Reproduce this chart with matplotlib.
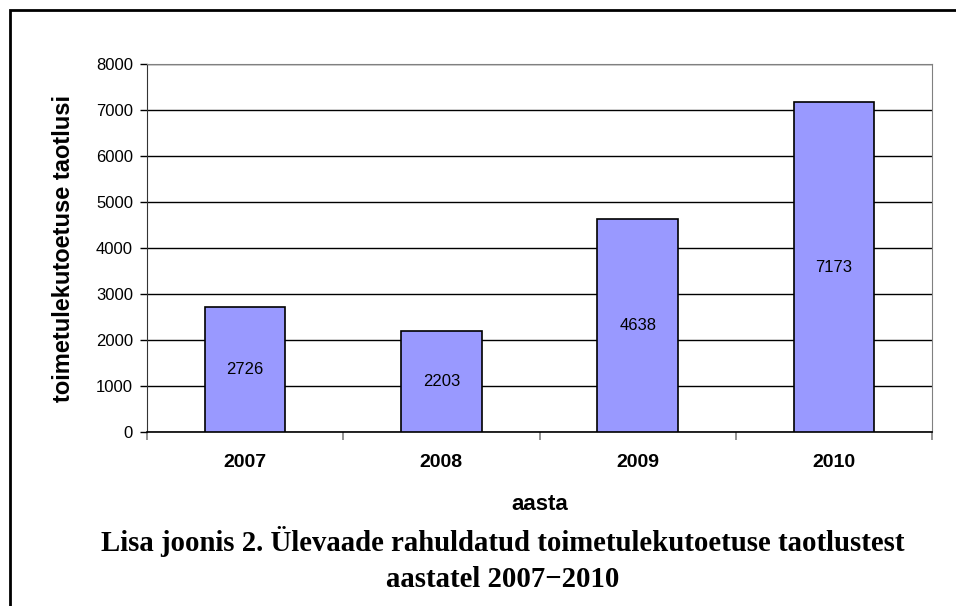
import matplotlib
matplotlib.use("Agg")
import matplotlib.pyplot as plt
from matplotlib.patches import Rectangle

# data
years = ["2007", "2008", "2009", "2010"]
counts = [2726, 2203, 4638, 7173]
yticks = [0, 1000, 2000, 3000, 4000, 5000, 6000, 7000, 8000]

plt.rcParams['font.family'] = ['Liberation Sans', 'DejaVu Sans']
serif = ['Liberation Serif', 'DejaVu Serif']

fig = plt.figure(figsize=(9.56, 6.06), dpi=100)
W, H = 956, 606
# axes box in pixels: left 147, top 64, right 932, bottom 432
ax = fig.add_axes([147 / W, 1 - 432 / H, (932 - 147) / W, (432 - 64) / H])

x = list(range(len(years)))
ax.bar(x, counts, width=0.41, color='#9999FF', edgecolor='black',
       linewidth=1.2, zorder=3)
for xi, c in zip(x, counts):
    ax.text(xi, c / 2, str(c), ha='center', va='center', fontsize=12, zorder=4)

ax.set_xlim(-0.5, len(years) - 0.5)
ax.set_ylim(0, 8000)
ax.set_yticks(yticks)
ax.tick_params(axis='y', labelsize=12, length=5, width=1, direction='out', pad=5)
ax.yaxis.grid(True, color='black', linewidth=1)
ax.set_axisbelow(True)

# category labels between boundary ticks
ax.set_xticks([i - 0.5 for i in range(len(years) + 1)])
ax.set_xticklabels([])
ax.tick_params(axis='x', length=6, width=1.2, color='#808080', direction='out')
ax.set_xticks(x, minor=True)
ax.set_xticklabels(years, minor=True, fontsize=14, fontweight='bold')
ax.tick_params(axis='x', which='minor', length=0, pad=16)

for s in ['top', 'right']:
    ax.spines[s].set_color('#808080')
ax.spines['left'].set_color('#333333')
ax.spines['bottom'].set_color('black')
ax.spines['bottom'].set_linewidth(1.2)

fig.text(64 / W, 1 - 248 / H, 'toimetulekutoetuse taotlusi', rotation=90,
         ha='center', va='center', fontsize=17, fontweight='bold')
fig.text(540 / W, 1 - 510 / H, 'aasta', ha='center', va='baseline',
         fontsize=16, fontweight='bold')

fig.text(503 / W, 1 - 551 / H, 'Lisa joonis 2. Ülevaade rahuldatud toimetulekutoetuse taotlustest',
         ha='center', va='baseline', fontsize=20.7, fontweight='bold', family=serif)
fig.text(503 / W, 1 - 587 / H, 'aastatel 2007\u22122010',
         ha='center', va='baseline', fontsize=20.7, fontweight='bold', family=serif)

# outer frame
fig.patches.append(Rectangle((10 / W, -0.05), 1.0, 1 - 10 / H + 0.05,
                             transform=fig.transFigure, fill=False,
                             edgecolor='black', linewidth=2))

fig.savefig('out.png', dpi=100)
